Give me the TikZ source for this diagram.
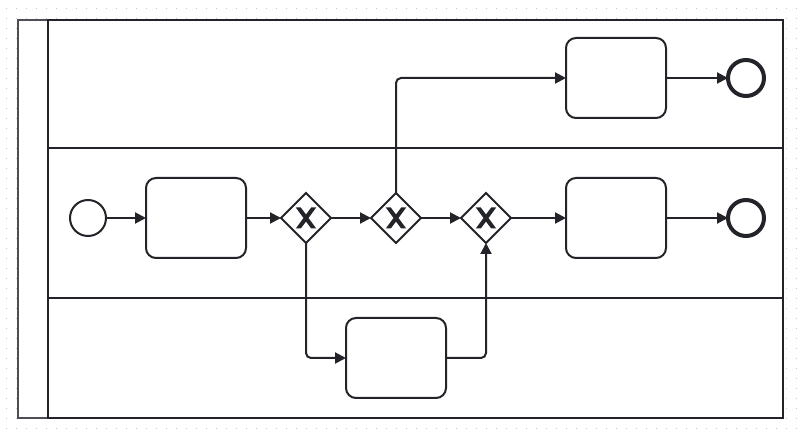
\documentclass[tikz,border=0pt]{standalone}
\usetikzlibrary{arrows.meta,shapes.geometric,calc}
\definecolor{ink}{HTML}{22242A}
\definecolor{inkleft}{HTML}{4E4F55}
\definecolor{griddot}{HTML}{C4C4C4}
\tikzset{
  taskbox/.style={draw=ink,fill=white,line width=2pt,rounded corners=10pt,minimum width=100pt,minimum height=80pt,inner sep=0pt,outer sep=0pt},
  startev/.style={circle,draw=ink,fill=white,line width=2pt,minimum size=36pt,inner sep=0pt,outer sep=0pt},
  endev/.style={circle,draw=ink,fill=white,line width=4pt,minimum size=36pt,inner sep=0pt,outer sep=0pt},
  gateway/.style={diamond,draw=ink,fill=white,line width=2pt,minimum width=50pt,minimum height=50pt,inner sep=0pt,outer sep=0pt,aspect=1},
  flow/.style={draw=ink,line width=2pt,rounded corners=5pt,-{Triangle[length=11pt,width=11pt]}},
  laneline/.style={draw=ink,line width=2pt}
}
\newcommand{\gwmark}[1]{%
  \fill[ink] ($(#1)+(-10.2,-10.5)$) -- ++(5,0) -- ($(#1)+(0,-3.5)$) -- ($(#1)+(5.2,-10.5)$) -- ++(5,0)
    -- ($(#1)+(2.5,0)$) -- ($(#1)+(10.2,10.5)$) -- ++(-5,0) -- ($(#1)+(0,3.5)$) -- ($(#1)+(-5.2,10.5)$) -- ++(-5,0)
    -- ($(#1)+(-2.5,0)$) -- cycle;}
\begin{document}
\begin{tikzpicture}[x=1pt,y=-1pt]
\useasboundingbox (0,0) rectangle (801,435);
\fill[white] (0,0) rectangle (801,435);
\foreach \i in {0,...,79}{\foreach \j in {0,...,42}{
  \fill[griddot] ({6+10*\i},{8+10*\j}) rectangle ++(1,1);}}
% pool and lanes
\fill[white] (18,20) rectangle (783,418);
\draw[draw=inkleft,line width=2pt] (48,20) -- (18,20) -- (18,418) -- (48,418);
\draw[laneline] (48,20) -- (783,20) -- (783,418) -- (48,418) -- cycle;
\draw[laneline] (48,148) -- (783,148);
\draw[laneline] (48,298) -- (783,298);
% nodes
\node[startev] (start) at (88,218) {};
\node[taskbox] (taskA) at (196,218) {};
\node[gateway] (gwA) at (306,218) {};
\node[gateway] (gwB) at (396,218) {};
\node[gateway] (gwC) at (486,218) {};
\node[taskbox] (taskB) at (616,78) {};
\node[endev] (endB) at (746,78) {};
\node[taskbox] (taskC) at (616,218) {};
\node[endev] (endC) at (746,218) {};
\node[taskbox] (taskD) at (396,358) {};
\gwmark{gwA}\gwmark{gwB}\gwmark{gwC}
% connectors
\draw[flow] (start) -- (taskA);
\draw[flow] (taskA) -- (gwA);
\draw[flow] (gwA) -- (gwB);
\draw[flow] (gwB) -- (gwC);
\draw[flow] (gwC) -- (taskC);
\draw[flow] (taskC) -- (endC);
\draw[flow] (taskB) -- (endB);
\draw[flow] (gwB.north) |- (taskB.west);
\draw[flow] (gwA.south) |- (taskD.west);
\draw[flow] (taskD.east) -| (gwC.south);
\end{tikzpicture}
\end{document}
